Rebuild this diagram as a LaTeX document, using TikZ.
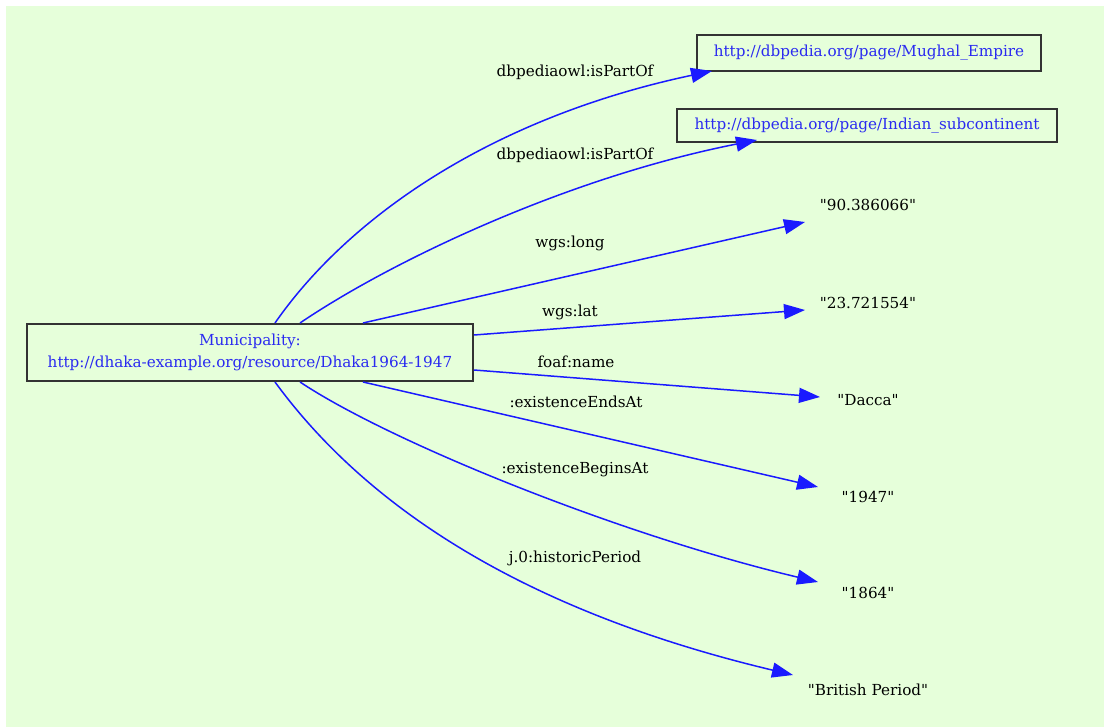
\documentclass[tikz,border=0pt]{standalone}
\usepackage{fontspec}
\setmainfont{DejaVu Serif}[Ligatures=TeXOff]
\usetikzlibrary{arrows.meta}
\definecolor{canvas}{HTML}{E6FFDA}
\definecolor{linkblue}{HTML}{1A1AFF}
\definecolor{uritext}{HTML}{2A2AF0}
\definecolor{boxline}{HTML}{333333}
\begin{document}
\begin{tikzpicture}[x=1pt,y=-1pt,
  every node/.style={font=\fontsize{15.2}{22}\selectfont, inner sep=0pt},
  resource/.style={draw=boxline, line width=2pt, text=uritext, align=center},
  literal/.style={text=black},
  prop/.style={text=black},
  rel/.style={draw=linkblue, line width=1.5pt, -{Triangle[length=21pt,width=15pt]}},
]
\useasboundingbox (0,0) rectangle (1104,727);
\fill[canvas] (6,6) rectangle (1104,727);

% resources
\node[resource, minimum width=446pt, minimum height=57pt] (dhaka) at (250,352.5)
  {Municipality:\\http://dhaka-example.org/resource/Dhaka1964-1947};
\node[resource, minimum width=344pt, minimum height=36pt] (mughal) at (869,53)
  {http://dbpedia.org/page/Mughal\_Empire};
\node[resource, minimum width=380pt, minimum height=33pt] (indian) at (867,125.5)
  {http://dbpedia.org/page/Indian\_subcontinent};

% literals
\node[literal] (long)    at (868,205) {"90.386066"};
\node[literal] (lat)     at (868,303) {"23.721554"};
\node[literal] (dacca)   at (868,400) {"Dacca"};
\node[literal] (y1947)   at (868,497) {"1947"};
\node[literal] (y1864)   at (868,593) {"1864"};
\node[literal] (british) at (868,690) {"British Period"};

% property labels
\node[prop] (p1) at (575,72)  {dbpediaowl:isPartOf};
\node[prop] (p2) at (575,155) {dbpediaowl:isPartOf};
\node[prop] (p3) at (570,243) {wgs:long};
\node[prop] (p4) at (570,312) {wgs:lat};
\node[prop] (p5) at (576,362) {foaf:name};
\node[prop] (p6) at (576,402) {:existenceEndsAt};
\node[prop] (p7) at (575,470) {:existenceBeginsAt};
\node[prop] (p8) at (575,558) {j.0:historicPeriod};

% edges
\draw[rel] ([shift={(25,0)}]dhaka.north) .. controls (348,218) and (490,118) .. ([shift={(16,-1)}]mughal.south west);
\draw[rel] ([shift={(50,0)}]dhaka.north) .. controls (390,262) and (565,178) .. ([shift={(81,-3)}]indian.south west);
\draw[rel] ([shift={(113,0)}]dhaka.north) -- ([shift={(-63,17)}]long.center);
\draw[rel] ([shift={(0,-17.5)}]dhaka.east) -- ([shift={(-63,7)}]lat.center);
\draw[rel] ([shift={(0,17.5)}]dhaka.east) -- ([shift={(-48,-3)}]dacca.center);
\draw[rel] ([shift={(113,0)}]dhaka.south) -- ([shift={(-50,-10)}]y1947.center);
\draw[rel] ([shift={(50,0)}]dhaka.south) .. controls (390,442) and (620,535) .. ([shift={(-50,-11)}]y1864.center);
\draw[rel] ([shift={(25,0)}]dhaka.south) .. controls (365,505) and (520,610) .. ([shift={(-75,-15)}]british.center);
\end{tikzpicture}
\end{document}
